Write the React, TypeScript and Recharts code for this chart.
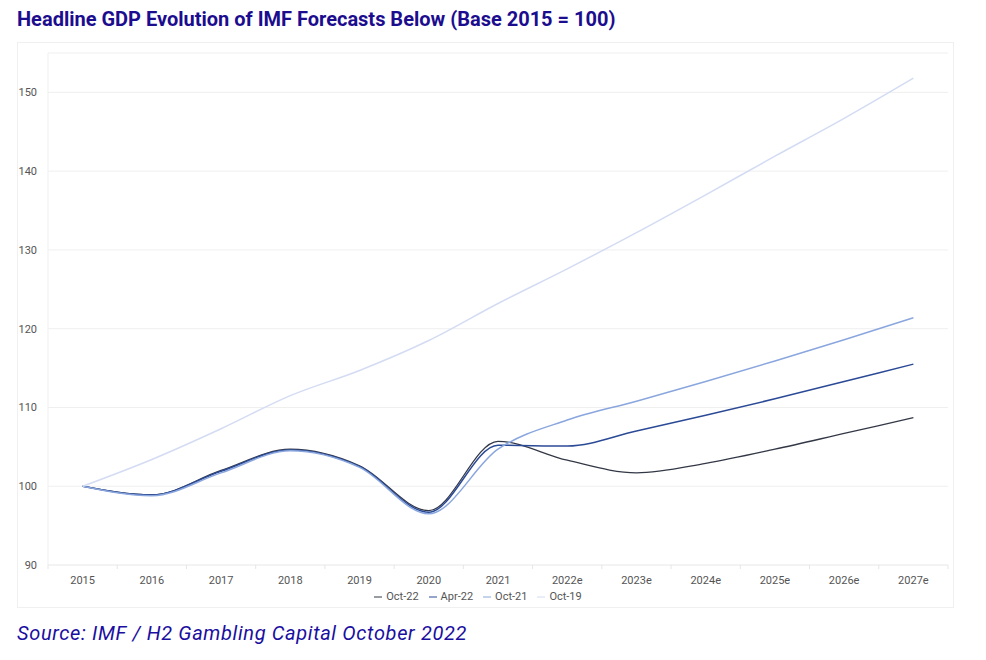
import React from 'react';
import { LineChart, Line, XAxis, YAxis, CartesianGrid, Legend } from 'recharts';

const years = ['2015', '2016', '2017', '2018', '2019', '2020', '2021', '2022e', '2023e', '2024e', '2025e', '2026e', '2027e'];
const oct22 = [100, 98.9, 102.0, 104.7, 102.6, 96.9, 105.7, 103.3, 101.7, 102.9, 104.7, 106.7, 108.7];
const apr22 = [100, 98.9, 101.9, 104.6, 102.5, 96.7, 105.2, 105.1, 107.0, 109.0, 111.1, 113.3, 115.5];
const oct21 = [100, 98.8, 101.7, 104.5, 102.4, 96.5, 104.7, 108.4, 110.8, 113.3, 115.9, 118.6, 121.4];
const oct19 = [100, 103.4, 107.3, 111.5, 114.7, 118.5, 123.2, 127.6, 132.2, 137.0, 141.9, 146.7, 151.8];
const seriesNames = ['Oct-22', 'Apr-22', 'Oct-21', 'Oct-19'];
const yTicks = [90, 100, 110, 120, 130, 140, 150];

const data = years.map((year, i) => ({
  year,
  'Oct-22': oct22[i],
  'Apr-22': apr22[i],
  'Oct-21': oct21[i],
  'Oct-19': oct19[i],
}));

const CHART_W = 935;
const CHART_H = 564;
const Y_AXIS_W = 30;
const MARGIN = { top: 10, right: 5, left: 0, bottom: 4 };
const PLOT_W = CHART_W - Y_AXIS_W - MARGIN.left - MARGIN.right;
const HALF_BAND = PLOT_W / years.length / 2;

const FONT = 'Roboto, "Open Sans", sans-serif';
const NAVY = '#1c0d8f';

const YearTick = (props: any) => {
  const { x, y, payload, index } = props;
  const axisY = y - 8;
  return (
    <g>
      <line x1={x - HALF_BAND} x2={x - HALF_BAND} y1={axisY} y2={axisY + 4} stroke="#e6e6e6" />
      {index === years.length - 1 && (
        <line x1={x + HALF_BAND} x2={x + HALF_BAND} y1={axisY} y2={axisY + 4} stroke="#e6e6e6" />
      )}
      <text x={x} y={y + 10.5} textAnchor="middle" fill="#555" fontSize={11} fontFamily={FONT}>
        {payload.value}
      </text>
    </g>
  );
};

const App: React.FC = () => {
  return (
    <div style={{ position: 'relative', width: 978, height: 650, fontFamily: FONT }}>
      <div
        style={{
          position: 'absolute',
          left: 9,
          top: 1,
          fontSize: 20,
          lineHeight: '20px',
          fontWeight: 700,
          color: NAVY,
          whiteSpace: 'nowrap',
        }}
      >
        Headline GDP Evolution of IMF Forecasts Below (Base 2015 = 100)
      </div>

      <div
        style={{
          position: 'absolute',
          left: 9,
          top: 34,
          width: CHART_W + 2,
          height: CHART_H + 2,
          border: '1px solid #f0f0f0',
          boxSizing: 'border-box',
        }}
      >
        <LineChart width={CHART_W} height={CHART_H} data={data} margin={MARGIN}>
          <CartesianGrid vertical={false} stroke="#efefef" />
          <XAxis
            dataKey="year"
            height={25}
            padding={{ left: HALF_BAND, right: HALF_BAND }}
            axisLine={{ stroke: '#efefef' }}
            tickLine={false}
            interval={0}
            tick={<YearTick />}
          />
          <YAxis
            width={Y_AXIS_W}
            domain={[90, 155]}
            ticks={yTicks}
            axisLine={{ stroke: '#efefef' }}
            tickLine={false}
            tickMargin={5}
            tick={{ fill: '#555', fontSize: 11, fontFamily: FONT }}
          />
          <Legend
            verticalAlign="bottom"
            align="center"
            iconType="plainline"
            iconSize={8}
            itemSorter={(item: any) => seriesNames.indexOf(item.value)}
            wrapperStyle={{ fontSize: 11, fontFamily: FONT }}
            formatter={(value) => <span style={{ color: '#555' }}>{value}</span>}
          />
          <Line type="monotone" dataKey="Oct-22" stroke="#333846" strokeWidth={1.3} dot={false} isAnimationActive={false} />
          <Line type="monotone" dataKey="Apr-22" stroke="#2b4a96" strokeWidth={1.5} dot={false} isAnimationActive={false} />
          <Line type="monotone" dataKey="Oct-21" stroke="#8aa6de" strokeWidth={1.5} dot={false} isAnimationActive={false} />
          <Line type="monotone" dataKey="Oct-19" stroke="#d4dcf3" strokeWidth={1.5} dot={false} isAnimationActive={false} />
        </LineChart>
      </div>

      <div
        style={{
          position: 'absolute',
          left: 9,
          top: 615,
          fontSize: 20,
          lineHeight: '20px',
          fontStyle: 'italic',
          letterSpacing: 0.65,
          color: '#1a0fa0',
          whiteSpace: 'nowrap',
        }}
      >
        Source: IMF / H2 Gambling Capital October 2022
      </div>
    </div>
  );
};

export default App;
